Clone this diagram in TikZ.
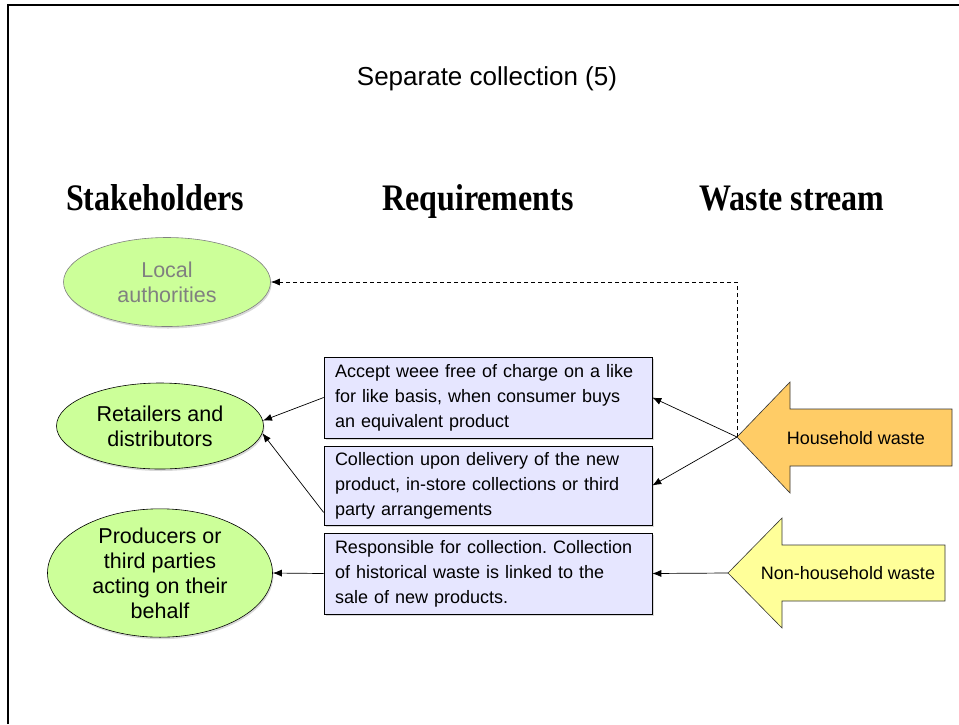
\documentclass[tikz,border=0pt]{standalone}
\usepackage{fontspec}
\setmainfont{Liberation Sans}
\newfontfamily\hdrfont{Liberation Serif}
\usetikzlibrary{shapes.geometric,arrows.meta,shadows}
\frenchspacing
\definecolor{elfill}{HTML}{CCFF99}
\definecolor{boxfill}{HTML}{E6E6FF}
\definecolor{hwfill}{HTML}{FFCC66}
\definecolor{nhwfill}{HTML}{FFFF99}
\definecolor{lagray}{HTML}{808080}
\tikzset{
  stake/.style={ellipse, draw=black, line width=0.6pt, fill=elfill, inner sep=0pt, align=center,
    font=\fontsize{21.5}{25}\selectfont,
    drop shadow={shadow xshift=1pt, shadow yshift=-2pt, fill=black!30}},
  reqbox/.style={rectangle, draw=black, line width=0.6pt, fill=boxfill, minimum width=328pt,
    text width=306pt, inner xsep=11pt, align=left, font=\fontsize{18}{25}\selectfont\frenchspacing,
    drop shadow={shadow xshift=1.5pt, shadow yshift=-1.5pt, fill=black!30}},
  hdr/.style={anchor=base, font=\hdrfont\bfseries\fontsize{32}{38}\selectfont},
  bigarrow/.style={draw=black!80, line width=0.6pt},
  wlabel/.style={font=\fontsize{18}{22}\selectfont},
  conn/.style={draw=black, line width=0.7pt, -{Latex[length=9pt,width=7pt]}},
  dashconn/.style={conn, dash pattern=on 4pt off 3pt}
}
\begin{document}
\begin{tikzpicture}[x=1pt,y=-1pt]
\useasboundingbox (0,0) rectangle (959,724);
% frame
\draw[line width=2pt] (8,724) -- (8,5) -- (959,5);
% title and headers
\node[anchor=base, font=\fontsize{26}{30}\selectfont] (title) at (487,85) {Separate collection (5)};
\node[hdr] (h1) at (155,210) {\scalebox{1}[1.17]{Stakeholders}};
\node[hdr] (h2) at (478,210) {\scalebox{1}[1.17]{Requirements}};
\node[hdr] (h3) at (792,210) {\scalebox{1}[1.17]{Waste stream}};
% stakeholders
\node[stake, draw=lagray, text=lagray, minimum width=207pt, minimum height=89pt] (la) at (167,282) {Local\\authorities};
\node[stake, minimum width=207pt, minimum height=86pt] (ret) at (160,426) {Retailers and\\distributors};
\node[stake, minimum width=225pt, minimum height=128pt] (prod) at (160,573) {Producers or\\third parties\\acting on their\\behalf};
% requirements
\node[reqbox, minimum height=81pt] (b1) at (488,397.5) {Accept weee free of charge on a like\\for like basis, when consumer buys\\an equivalent product};
\node[reqbox, minimum height=79pt] (b2) at (488,485.5) {Collection upon delivery of the new\\product, in-store collections or third\\party arrangements};
\node[reqbox, minimum height=81pt] (b3) at (488,573.5) {Responsible for collection. Collection\\of historical waste is linked to the\\sale of new products.};
% waste streams
\draw[bigarrow, fill=hwfill] (737,437) -- (790,382) -- (790,409) -- (952,409) -- (952,466) -- (790,466) -- (790,493) -- cycle;
\coordinate (hw) at (737,437);
\node[wlabel] (hwl) at (856,438) {Household waste};
\draw[bigarrow, fill=nhwfill] (728,573) -- (782,518) -- (782,545) -- (945,545) -- (945,601) -- (782,601) -- (782,628) -- cycle;
\coordinate (nhw) at (728,573);
\node[wlabel] (nhwl) at (848,573) {Non-household waste};
% connectors
\draw[conn] (b1.west) -- (ret.3);
\draw[conn] ([yshift=-27pt]b2.west) -- (ret.-4);
\draw[conn] (b3.west) -- (prod.east);
\draw[conn] (hw) -- (b1.east);
\draw[conn] (hw) -- (b2.east);
\draw[dashconn] (hw) |- (la.east);
\draw[conn] (nhw) -- (b3.east);
\end{tikzpicture}
\end{document}
